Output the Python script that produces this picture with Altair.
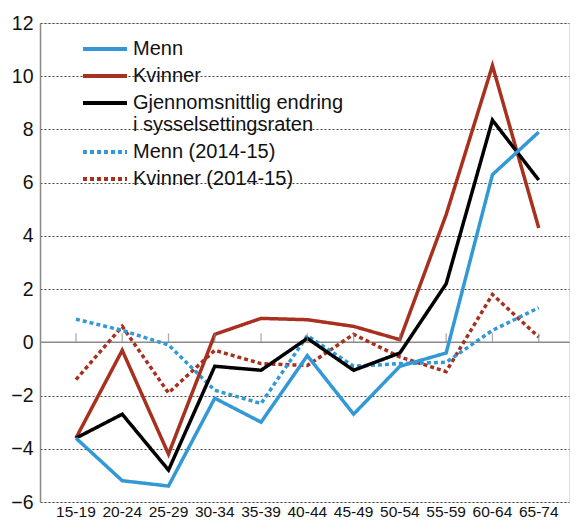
import altair as alt
import pandas as pd

categories = ["15-19", "20-24", "25-29", "30-34", "35-39", "40-44",
              "45-49", "50-54", "55-59", "60-64", "65-74"]
menn = [-3.6, -5.2, -5.4, -2.1, -3.0, -0.5, -2.7, -0.9, -0.4, 6.3, 7.9]
kvinner = [-3.6, -0.3, -4.2, 0.3, 0.9, 0.85, 0.6, 0.1, 4.8, 10.4, 4.3]
snitt = [-3.6, -2.7, -4.8, -0.9, -1.05, 0.15, -1.05, -0.4, 2.2, 8.35, 6.1]
menn_1415 = [0.87, 0.45, -0.1, -1.8, -2.3, 0.25, -0.9, -0.8, -0.75, 0.45, 1.3]
kvinner_1415 = [-1.4, 0.6, -1.9, -0.3, -0.8, -0.87, 0.3, -0.55, -1.1, 1.8, 0.2]

S_MENN = "Menn"
S_KV = "Kvinner"
S_SNITT = "Gjennomsnittlig endring\ni sysselsettingsraten"
S_MENN2 = "Menn (2014-15)"
S_KV2 = "Kvinner (2014-15)"

legend_order = [S_MENN, S_KV, S_SNITT, S_MENN2, S_KV2]
colors = ["#3399d6", "#a8301f", "#000000", "#3399d6", "#a8301f"]
dashes = [[1, 0], [1, 0], [1, 0], [4, 3], [4, 3]]

# drawing order: dotted first, then solid
draw = [(S_KV2, kvinner_1415), (S_MENN2, menn_1415), (S_KV, kvinner),
        (S_SNITT, snitt), (S_MENN, menn)]
rows = []
for k, (name, vals) in enumerate(draw):
    for i, (c, v) in enumerate(zip(categories, vals)):
        rows.append({"alder": c, "verdi": v, "serie": name, "z": k, "i": i})
df = pd.DataFrame(rows)

xscale = alt.Scale(domain=categories, padding=0.431, align=0.571)
yscale = alt.Scale(domain=[-6, 12])

zero = alt.Chart(pd.DataFrame({"y": [0]})).mark_rule(
    color="#8a8a8a", strokeWidth=1.5
).encode(y=alt.Y("y:Q", scale=yscale))

ticks = alt.Chart(pd.DataFrame({"alder": categories, "y": [0] * len(categories)})).mark_tick(
    orient="vertical", size=9, thickness=1.3, color="#8a8a8a", yOffset=-4.5
).encode(
    x=alt.X("alder:O", scale=xscale, sort=categories),
    y=alt.Y("y:Q", scale=yscale),
)

legend = alt.Legend(title=None, orient="none", legendX=55, legendY=16,
                    labelExpr="split(datum.label, '\\n')",
                    symbolType="M-4,0H4", symbolSize=121,
                    symbolStrokeWidth=4, labelOffset=18, labelLimit=0,
                    labelFontSize=20, labelColor="#111",
                    rowPadding=7, padding=0)

lines = alt.Chart(df).mark_line(strokeWidth=3.5).encode(
    x=alt.X("alder:O", scale=xscale, sort=categories,
            axis=alt.Axis(title=None, labelAngle=0, ticks=False, domain=False,
                          grid=False, labelFontSize=15.5, labelPadding=2,
                          labelColor="#111")),
    y=alt.Y("verdi:Q", scale=yscale,
            axis=alt.Axis(title=None, values=list(range(-6, 13, 2)), ticks=False,
                          domainColor="#888", domainWidth=1.5,
                          labelFontSize=19.5, labelPadding=7, labelColor="#111",
                          gridColor="#444", gridDash=[2, 2], gridWidth=1)),
    color=alt.Color("serie:N", scale=alt.Scale(domain=legend_order, range=colors),
                    legend=legend),
    strokeDash=alt.StrokeDash("serie:N", scale=alt.Scale(domain=legend_order, range=dashes),
                              legend=legend),
    detail="z:N",
    order="i:Q",
)

chart = alt.layer(zero, lines, ticks).properties(
    width=529, height=479,
    autosize="none",
    padding={"left": 32, "top": 15, "right": 2, "bottom": 20},
).configure_view(stroke=None).configure(
    font="Liberation Sans"
).configure_axis(labelFont="Liberation Sans").configure_legend(labelFont="Liberation Sans")

chart.save("out.html", embed_options={"renderer": "svg", "actions": False})
